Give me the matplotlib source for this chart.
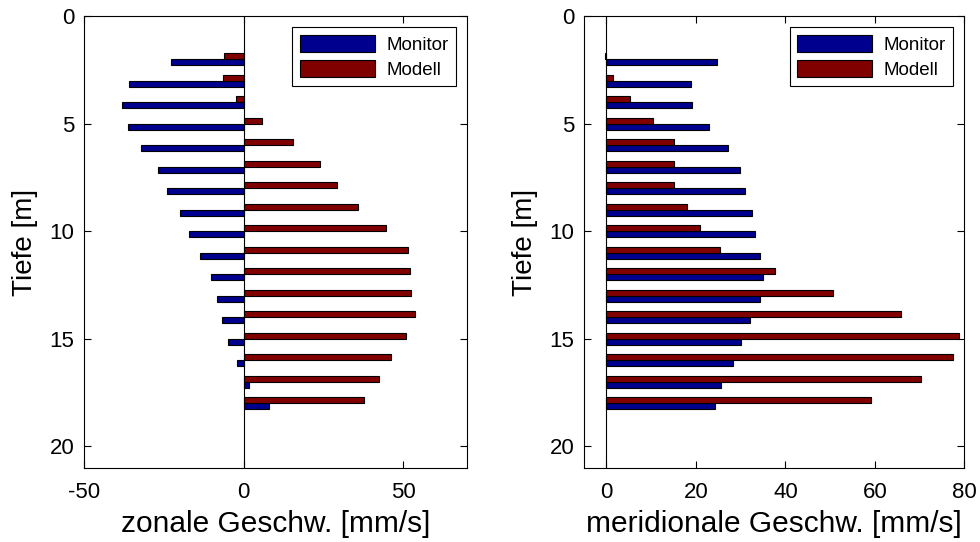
import numpy as np
import matplotlib
matplotlib.use('Agg')
import matplotlib.pyplot as plt

plt.rcParams['font.family'] = ['Liberation Sans', 'DejaVu Sans']
plt.rcParams['axes.unicode_minus'] = False

# depth of each pair of bars [m]
tiefe = np.arange(2, 19)

# zonal velocity [mm/s]
zonal_monitor = [-22.7, -35.8, -38.1, -36.3, -32.3, -26.9, -24.1, -20.0, -17.0,
                 -13.7, -10.1, -8.5, -6.8, -4.9, -2.1, 1.8, 8.0]
zonal_modell = [-6.1, -6.5, -2.5, 5.6, 15.4, 23.9, 29.2, 35.9, 44.6,
                51.6, 52.0, 52.3, 53.6, 51.0, 46.2, 42.5, 37.7]

# meridional velocity [mm/s]
merid_monitor = [24.7, 18.9, 19.2, 22.9, 27.1, 29.8, 30.9, 32.5, 33.3,
                 34.3, 35.0, 34.4, 32.0, 30.1, 28.3, 25.7, 24.3]
merid_modell = [-0.3, 1.4, 5.2, 10.4, 15.1, 15.1, 15.0, 17.9, 21.0,
                25.4, 37.7, 50.7, 65.8, 78.7, 77.4, 70.3, 59.1]

blau = (0, 0, 0.5625)
rot = (0.5, 0, 0)
h = 0.28

fig = plt.figure(figsize=(9.8, 5.42), dpi=100)
ax1 = fig.add_axes([0.0857, 0.1365, 0.391, 0.834])
ax2 = fig.add_axes([0.596, 0.1365, 0.388, 0.834])


def panel(ax, monitor, modell, xlim, xticks, xlabel):
    ax.barh(tiefe + h / 2, monitor, height=h, color=blau, edgecolor='black',
            linewidth=0.8, label='Monitor')
    ax.barh(tiefe - h / 2, modell, height=h, color=rot, edgecolor='black',
            linewidth=0.8, label='Modell')
    ax.axvline(0, color='black', linewidth=0.8)
    ax.set_xlim(xlim)
    ax.set_ylim(21, 0)
    ax.set_xticks(xticks)
    ax.set_yticks([0, 5, 10, 15, 20])
    ax.tick_params(direction='in', top=True, right=True, labelsize=16, length=5)
    ax.tick_params(axis='x', pad=10)
    ax.tick_params(axis='y', pad=7)
    ax.set_xlabel(xlabel, fontsize=21.5, labelpad=5)
    ax.set_ylabel('Tiefe [m]', fontsize=20, labelpad=8)
    leg = ax.legend(loc='upper right', fontsize=13.5, fancybox=False,
                    edgecolor='black', framealpha=1, handlelength=4.0,
                    handleheight=1.0, borderaxespad=0.6, labelspacing=0.35,
                    handletextpad=0.6)
    leg.get_frame().set_linewidth(0.8)


panel(ax1, zonal_monitor, zonal_modell, (-50, 70), [-50, 0, 50],
      'zonale Geschw. [mm/s]')
panel(ax2, merid_monitor, merid_modell, (-5, 80), [0, 20, 40, 60, 80],
      'meridionale Geschw. [mm/s]')

fig.savefig('out.png', dpi=100)
